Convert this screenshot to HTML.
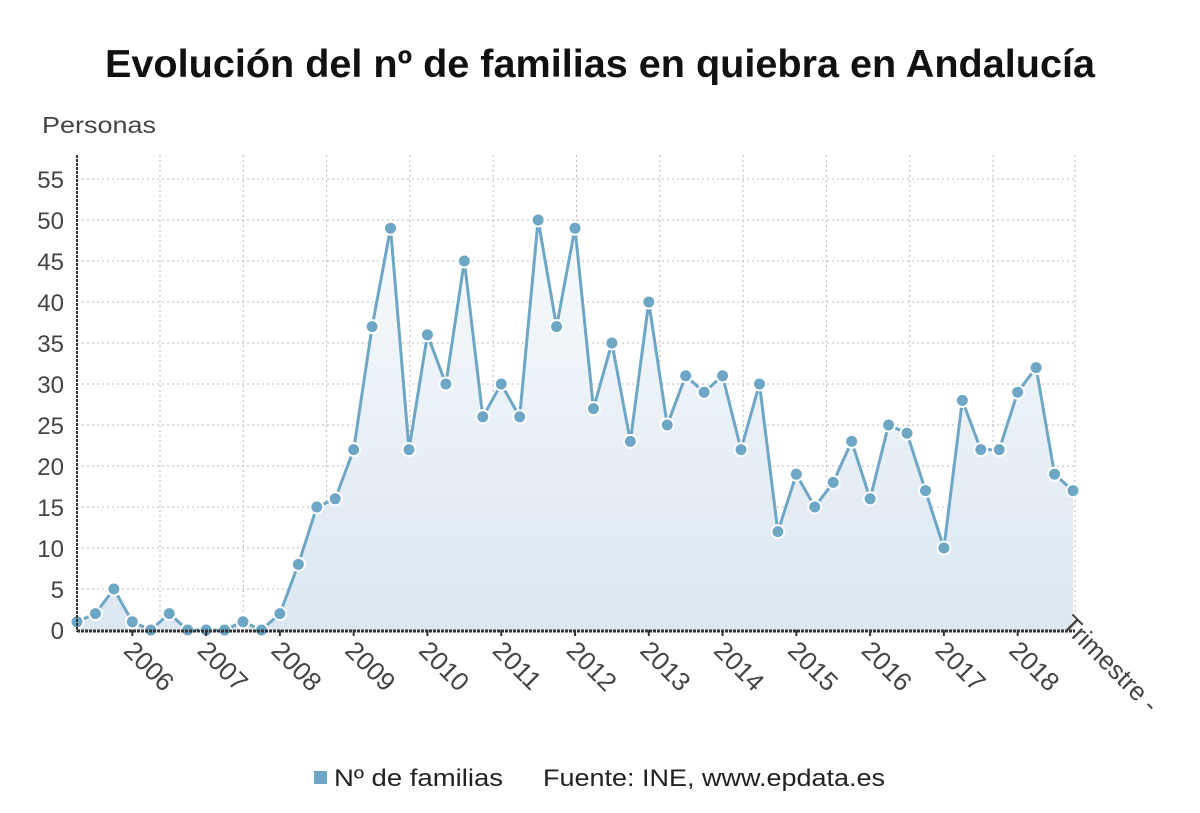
<!DOCTYPE html>
<html><head><meta charset="utf-8"><style>
body{margin:0;background:#fff;width:1200px;height:808px;overflow:hidden;font-family:"Liberation Sans",sans-serif}
</style></head><body>
<svg id="chart" width="1200" height="808" xmlns="http://www.w3.org/2000/svg" font-family="Liberation Sans, sans-serif">
<text x="105" y="77" textLength="990" lengthAdjust="spacingAndGlyphs" font-size="39" font-weight="bold" fill="#111">Evolución del nº de familias en quiebra en Andalucía</text>
<text x="42" y="133" textLength="114" lengthAdjust="spacingAndGlyphs" font-size="23" fill="#444">Personas</text>
<g id="grid"></g><g id="marks"></g><g id="axes"></g>
<g>
<rect x="314" y="771" width="13" height="13" fill="#6ea6c6"/>
<text x="334" y="786" textLength="169" lengthAdjust="spacingAndGlyphs" font-size="24" fill="#222">Nº de familias</text>
<text x="543" y="786" textLength="342" lengthAdjust="spacingAndGlyphs" font-size="24" fill="#222">Fuente: INE, www.epdata.es</text>
</g>
</svg>
<script>
const values=[1,2,5,1,0,2,0,0,0,1,0,2,8,15,16,22,37,49,22,36,30,45,26,30,26,50,37,49,27,35,23,40,25,31,29,31,22,30,12,19,15,18,23,16,25,24,17,10,28,22,22,29,32,19,17];
const yTicks=[0,5,10,15,20,25,30,35,40,45,50,55];
const years=["2006","2007","2008","2009","2010","2011","2012","2013","2014","2015","2016","2017","2018"];
const NS="http://www.w3.org/2000/svg";
const x0=77,x1=1073,y0=630,yTop=155;
const xs=i=>x0+i*(x1-x0)/(values.length-1);
const ys=v=>y0-v*(630-179)/55;
function mk(t,a,p){const e=document.createElementNS(NS,t);for(const k in a)e.setAttribute(k,a[k]);p.appendChild(e);return e;}
const grid=document.getElementById('grid'),marks=document.getElementById('marks'),axes=document.getElementById('axes');
yTicks.forEach(v=>{
 const l=mk('line',{x1:x0,x2:1075,y1:ys(v),y2:ys(v),stroke:'#bbb','stroke-dasharray':'2,3'},grid);
 
 
 const t=mk('text',{x:64,y:ys(v)+9,'text-anchor':'end','font-size':24,fill:'#444'},axes);
 t.textContent=v;
 
 
});
for(let k=0;k<11;k++){
 const gx=160+k*83.3;
 const l=mk('line',{x1:gx,x2:gx,y1:yTop,y2:y0,stroke:'#bbb','stroke-dasharray':'2,3'},grid);
 
 
}
const rg=mk('line',{x1:1075,x2:1075,y1:yTop,y2:y0,stroke:'#bbb','stroke-dasharray':'2,3'},grid);


let d='M'+xs(0)+','+y0;
values.forEach((v,i)=>{d+=' L'+xs(i)+','+ys(v);});
d+=' L'+xs(values.length-1)+','+y0+' Z';
const defs=mk('defs',{},marks);
const g=mk('linearGradient',{id:'gr',x1:0,y1:0,x2:0,y2:1},defs);
mk('stop',{offset:0,'stop-color':'#f7fafc'},g);mk('stop',{offset:1,'stop-color':'#dbe7f1'},g);
const area=mk('path',{d:d,fill:'url(#gr)'},marks);


const line=mk('polyline',{points:values.map((v,i)=>xs(i)+','+ys(v)).join(' '),fill:'none',stroke:'#6ea6c6','stroke-width':3},marks);


values.forEach((v,i)=>{
 const c=mk('circle',{cx:xs(i),cy:ys(v),r:6.5,fill:'#6ea6c6',stroke:'#fff','stroke-width':2},marks);
 
 
});
const ya=mk('line',{x1:x0,x2:x0,y1:yTop,y2:y0+2,stroke:'#333','stroke-width':2,'stroke-dasharray':'3,1'},axes);


const xa=mk('line',{x1:x0,x2:1075,y1:y0+1,y2:y0+1,stroke:'#333','stroke-width':3,'stroke-dasharray':'3,1'},axes);


years.forEach((y,k)=>{
 const tx=xs(3+4*k);
 mk('line',{x1:tx,x2:tx,y1:y0,y2:y0+6,stroke:'#333','stroke-width':2},axes);
 const t=mk('text',{x:tx-10,y:y0+22,'font-size':26,fill:'#444',transform:`rotate(45 ${tx-10} ${y0+22})`},axes);
 t.textContent=y;
 
 
});
const tr=mk('text',{x:1060,y:y0-4,'font-size':26,fill:'#444',transform:`rotate(45 1060 ${y0-4})`},axes);
tr.textContent='Trimestre -';


</script>
</body></html>
